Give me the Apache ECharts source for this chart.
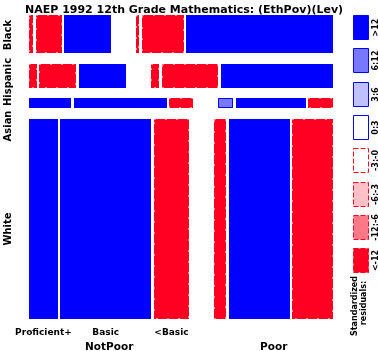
<!DOCTYPE html>
<html>
<head>
<meta charset="utf-8">
<script src="https://cdn.jsdelivr.net/npm/echarts@6/dist/echarts.min.js"></script>
<style>
html, body { margin: 0; padding: 0; background: #fff; }
#main { width: 378px; height: 351px; }
</style>
</head>
<body>
<div id="main"></div>
<script>
// NAEP 1992 12th grade maths, mosaic of (Eth x Pov) by Lev
var ethnicities = ['Black', 'Hispanic', 'Asian', 'White'];
var ethShares = [38, 24, 10, 200];
var povGroups = ['NotPoor', 'Poor'];
var levels = ['Proficient+', 'Basic', '<Basic'];

// cell widths per row: NotPoor (P+, Basic, <Basic), Poor (P+, Basic, <Basic)
var blackCells    = [4, 26, 47, 3, 42, 147];
var hispanicCells = [8, 37, 48, 8, 57, 113];
var asianCells    = [42, 93, 24, 15, 70, 25];
var whiteCells    = [29, 91, 36, 12, 61, 41];

// residual class of each cell, index into legendLabels
var blackResid    = [7, 7, 0, 7, 7, 0];
var hispanicResid = [7, 7, 0, 7, 7, 0];
var asianResid    = [0, 0, 7, 1, 0, 7];
var whiteResid    = [0, 0, 7, 7, 0, 7];

var legendLabels = ['>12', '6:12', '3:6', '0:3', '-3:-0', '-6:-3', '-12:-6', '<-12'];
var legendColors = ['#0000ff', '#7878ff', '#c0c0ff', '#ffffff', '#ffffff', '#ffc0c8', '#ff7888', '#ff0022'];

var cells = [blackCells, hispanicCells, asianCells, whiteCells];
var resid = [blackResid, hispanicResid, asianResid, whiteResid];

var PX = 304;               // grid size in px, square
var lvlGap = 2.5 / PX;
var povGap = 25 / PX;
var rowGap = (32 / 3) / PX;

function rowBox(r) {
    var tot = ethShares.reduce(function (a, b) { return a + b; }, 0);
    var avail = 1 - rowGap * (ethShares.length - 1);
    var y = 0;
    for (var i = 0; i < r; i++) y += avail * ethShares[i] / tot + rowGap;
    return [y, y + avail * ethShares[r] / tot];
}

function cellBox(r, c) {
    var w = cells[r];
    var tot = w.reduce(function (a, b) { return a + b; }, 0);
    var avail = 1 - 4 * lvlGap - povGap;
    var x = 0;
    for (var i = 0; i < c; i++) {
        x += avail * w[i] / tot;
        x += (i == 2) ? povGap : lvlGap;
    }
    return [x, x + avail * w[c] / tot];
}

var cellData = [];
for (var r = 0; r < ethnicities.length; r++) {
    for (var c = 0; c < 6; c++) {
        cellData.push([r, c, resid[r][c]]);
    }
}

var labelData = [];
for (var c = 0; c < levels.length; c++) labelData.push([3, c, 0]);
for (var p = 0; p < povGroups.length; p++) labelData.push([3, p, 1]);

var font = 'DejaVu Sans';

function renderCell(params, api) {
    var r = api.value(0), c = api.value(1), k = api.value(2);
    var xb = cellBox(r, c), yb = rowBox(r);
    var p0 = api.coord([xb[0], yb[0]]);
    var p1 = api.coord([xb[1], yb[1]]);
    var x = Math.round(p0[0]), y = Math.round(p0[1]);
    var w = Math.round(p1[0]) - x, h = Math.round(p1[1]) - y;
    var children = [{
        type: 'rect',
        shape: { x: x, y: y, width: w, height: h },
        style: { fill: legendColors[k] }
    }];
    if (k >= 4) {
        // dashed outline of negative residuals
        children.push({
            type: 'rect',
            shape: { x: x + 0.5, y: y + 0.5, width: w - 1, height: h - 1 },
            style: { fill: null, stroke: '#ffffff', lineWidth: 1, lineDash: [1, 10] }
        });
    } else {
        children.push({
            type: 'rect',
            shape: { x: x + 0.5, y: y + 0.5, width: w - 1, height: h - 1 },
            style: { fill: null, stroke: '#0000ff', lineWidth: 1 }
        });
    }
    return { type: 'group', children: children };
}

function renderLabel(params, api) {
    var r = api.value(0), c = api.value(1), kind = api.value(2);
    var xb, txt, dy, size;
    if (kind == 0) {
        xb = cellBox(r, c);
        txt = levels[c];
        dy = 14; size = 9;
    } else {
        var a = cellBox(r, c * 3), b = cellBox(r, c * 3 + 2);
        xb = [a[0], b[1]];
        txt = povGroups[c];
        dy = 28; size = 10.5;
    }
    var pt = api.coord([(xb[0] + xb[1]) / 2, 1]);
    return {
        type: 'text',
        style: {
            text: txt, x: pt[0], y: pt[1] + dy,
            align: 'center', verticalAlign: 'middle',
            font: 'bold ' + size + 'px ' + font, fill: '#000'
        }
    };
}

var graphics = [];
var rowLabelY = [35, 82, 126, 229];
ethnicities.forEach(function (e, i) {
    graphics.push({
        type: 'text', x: 8, y: rowLabelY[i], rotation: Math.PI / 2,
        style: { text: e, align: 'center', verticalAlign: 'middle', font: 'bold 10px ' + font, fill: '#000' }
    });
});
legendLabels.forEach(function (lab, i) {
    var top = 15 + i * 33.3;
    var neg = i >= 4;
    graphics.push({
        type: 'rect',
        shape: { x: 353.5, y: Math.round(top) + 0.5, width: 15, height: 24 },
        style: {
            fill: legendColors[i],
            stroke: neg ? '#ff0022' : '#0000ff',
            lineWidth: 1,
            lineDash: neg ? [5, 2] : null
        }
    });
    graphics.push({
        type: 'text', x: 376, y: Math.round(top) + 12.5, rotation: Math.PI / 2,
        style: { text: lab, align: 'center', verticalAlign: 'middle', font: 'bold 8px ' + font, fill: '#000' }
    });
});
graphics.push({
    type: 'text', x: 355, y: 306, rotation: Math.PI / 2,
    style: { text: 'Standardized', align: 'center', verticalAlign: 'middle', font: 'bold 8px ' + font, fill: '#000' }
});
graphics.push({
    type: 'text', x: 364, y: 303, rotation: Math.PI / 2,
    style: { text: 'residuals:', align: 'center', verticalAlign: 'middle', font: 'bold 8px ' + font, fill: '#000' }
});

var myChart = echarts.init(document.getElementById('main'), null, { renderer: 'canvas' });
var option = {
    animation: false,
    title: {
        text: 'NAEP 1992 12th Grade Mathematics: (EthPov)(Lev)',
        left: 20, top: 0,
        textStyle: { fontFamily: font, fontWeight: 'bold', fontSize: 11, color: '#000' }
    },
    grid: { left: 29, top: 15, width: PX, height: PX },
    xAxis: { type: 'value', min: 0, max: 1, show: false },
    yAxis: { type: 'value', min: 0, max: 1, inverse: true, show: false },
    graphic: graphics,
    series: [{
        type: 'custom',
        renderItem: renderCell,
        data: cellData,
        silent: true
    }, {
        type: 'custom',
        renderItem: renderLabel,
        data: labelData,
        silent: true
    }]
};
myChart.setOption(option);
</script>
</body>
</html>
